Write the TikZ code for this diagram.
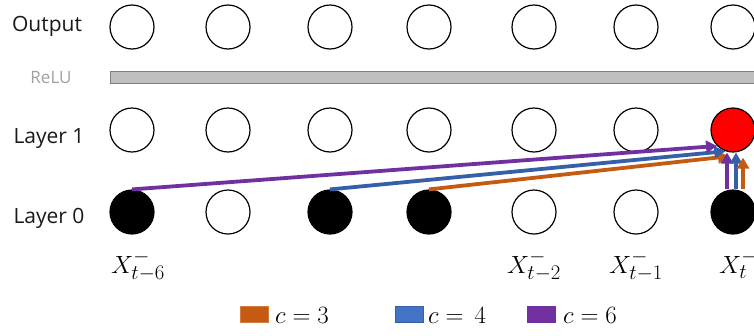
\documentclass[tikz,border=0pt]{standalone}
\usepackage[no-math]{fontspec}
\setmainfont{Open Sans}
\usetikzlibrary{arrows.meta}
\definecolor{corange}{HTML}{C55A11}
\definecolor{cblue}{HTML}{4472C4}
\definecolor{cblueline}{HTML}{3560A8}
\definecolor{cpurple}{HTML}{7030A0}
\definecolor{bargray}{HTML}{BFBFBF}
\definecolor{barline}{HTML}{808080}
\definecolor{relutext}{HTML}{A0A0A0}
\begin{document}
\begin{tikzpicture}[x=1pt,y=-1pt,
  unit/.style={circle,draw=black,line width=1.2pt,minimum size=44pt,inner sep=0pt,fill=white},
  active/.style={unit,fill=black},
  target/.style={unit,fill=red},
  rowlbl/.style={font=\fontsize{21}{24}\selectfont,text=black!90,anchor=base,inner sep=0pt},
  xlbl/.style={font=\fontsize{28}{30}\selectfont,anchor=base west,inner sep=0pt},
  leglbl/.style={font=\fontsize{27}{30}\selectfont,anchor=base west,inner sep=0pt},
  swatch/.style={rectangle,minimum width=28pt,minimum height=16pt,inner sep=0pt,line width=0.6pt},
  conn/.style={line width=3.8pt,-{Triangle[width=12pt,length=11pt]}}
]
\useasboundingbox (0,0) rectangle (754,335);

% row labels
\node[rowlbl] (lout) at (47,31) {Output};
\node[rowlbl,font=\fontsize{17}{20}\selectfont,text=relutext] (lrelu) at (51,83) {ReLU};
\node[rowlbl] (lh) at (49,143) {Layer 1};
\node[rowlbl] (lx) at (49,223) {Layer 0};

% ReLU bar
\node[draw=barline,fill=bargray,line width=0.8pt,rectangle,minimum width=660pt,minimum height=12pt,inner sep=0pt,anchor=west] (relu) at (110,77) {};

% units
\foreach \i/\x in {1/132,2/228,3/330,4/429,5/534,6/636,7/733}{
  \node[unit] (o\i) at (\x,27) {};
}
\foreach \i/\x in {1/132,2/228,3/330,4/429,5/534,6/636}{
  \node[unit] (h\i) at (\x,130) {};
}
\node[target] (h7) at (733,130) {};
\node[active] (x1) at (132,212) {};
\node[unit]   (x2) at (228,212) {};
\node[active] (x3) at (330,212) {};
\node[active] (x4) at (429,212) {};
\node[unit]   (x5) at (534,212) {};
\node[unit]   (x6) at (636,212) {};
\node[active] (x7) at (733,212) {};

% connections
\draw[conn,corange] (x4.north) -- ([yshift=-4pt]h7.260);
\draw[conn,cblueline] (x3.north) -- (h7.250);
\draw[conn,cpurple] (x1.north) -- (h7.225);
\draw[conn,cpurple] ([xshift=-6pt]x7.north) -- ([xshift=-6pt]h7.south);
\draw[conn,cblueline] ([xshift=3pt]x7.north) -- ([xshift=3pt]h7.south);
\draw[conn,corange] ([xshift=10pt]x7.north) -- ([xshift=10pt,yshift=-5pt]h7.south);

% input labels
\node[xlbl] (t6) at (111,273) {$X^-_{t-6}$};
\node[xlbl] (t2) at (507,273) {$X^-_{t-2}$};
\node[xlbl] (t1) at (609,273) {$X^-_{t-1}$};
\node[xlbl] (t0) at (719,273) {$X^-_{t}$};

% legend
\node[swatch,fill=corange,draw=corange!80!white] (s3) at (254,314) {};
\node[leglbl] (c3) at (275,323) {$c=3$};
\node[swatch,fill=cblue,draw=cblueline] (s4) at (409.5,314) {};
\node[leglbl] (c4) at (428,323) {$c=\,4$};
\node[swatch,fill=cpurple,draw=cpurple] (s6) at (541,314) {};
\node[leglbl] (c6) at (563,323) {$c=6$};
\end{tikzpicture}
\end{document}
